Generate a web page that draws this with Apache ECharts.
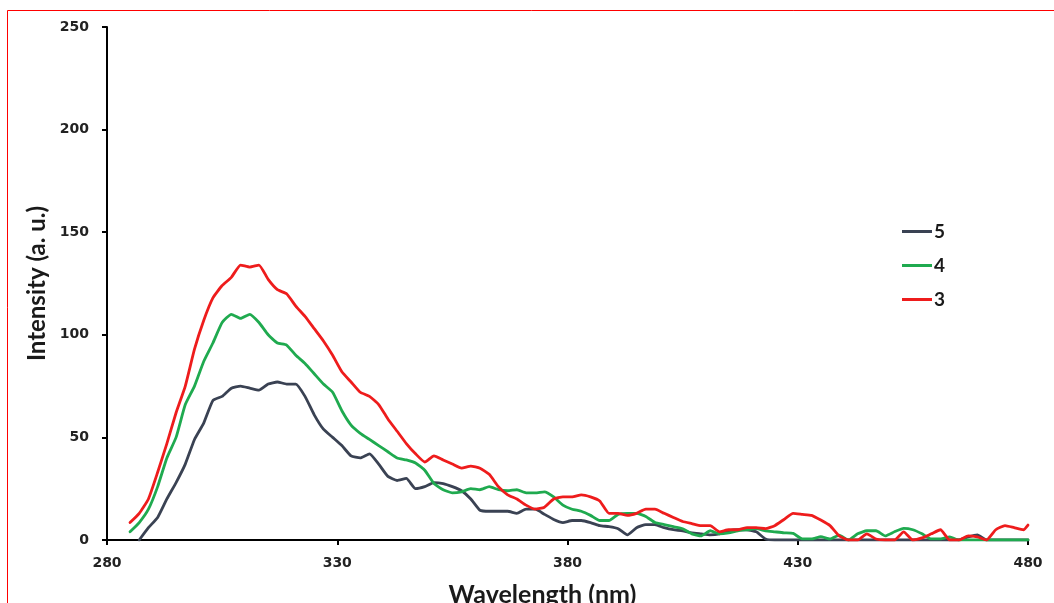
<!DOCTYPE html>
<html>
<head>
<meta charset="utf-8">
<script src="https://cdn.jsdelivr.net/npm/echarts@6/dist/echarts.min.js"></script>
<style>
  html, body { margin: 0; padding: 0; background: #ffffff; overflow: hidden; }
  #chart { width: 1054px; height: 603px; }
</style>
</head>
<body>
<div id="chart"></div>
<script>
// Emission spectra: wavelength (nm) vs. intensity (a. u.)
const wavelengths = [
  285, 287, 289, 291, 293, 295, 297, 299, 301, 303,
  305, 307, 309, 311, 313, 315, 317, 319, 321, 323,
  325, 327, 329, 331, 333, 335, 337, 339, 341, 343,
  345, 347, 349, 351, 353, 355, 357, 359, 361, 363,
  365, 367, 369, 371, 373, 375, 377, 379, 381, 383,
  385, 387, 389, 391, 393, 395, 397, 399, 401, 403,
  405, 407, 409, 411, 413, 415, 417, 419, 421, 423,
  425, 427, 429, 431, 433, 435, 437, 439, 441, 443,
  445, 447, 449, 451, 453, 455, 457, 459, 461, 463,
  465, 467, 469, 471, 473, 475, 477, 479, 480
];

const sample5 = [
  null, 0, 6, 11, 20, 28, 37, 49, 57, 68,
  70, 74, 75, 74, 73, 76, 77, 76, 76, 70,
  61, 54, 50, 46, 41, 40, 42, 37, 31, 29,
  30, 25, 26, 28, 27.5, 26, 24, 20, 14.5, 14,
  14, 14, 13, 15, 15, 12.5, 10, 8.5, 9.5, 9.5,
  8.5, 7, 6.5, 5.5, 2.5, 6, 7.5, 7.5, 6, 5,
  4.5, 3.5, 3, 2.5, 3, 4.5, 5, 5, 4, 0.5,
  0, 0, 0, 0, 0, 0, 0, 0, 0, 0,
  0, 0, 0, 0, 0, 0, 0, 0, 0, 0,
  0, 1.5, 2.5, 0, 0, 0, 0, 0, 0
];

const sample4 = [
  4, 8.5, 15, 26, 40, 50, 66, 75, 87, 96,
  106, 110, 108, 110, 106, 100, 96, 95, 90, 86,
  81, 76, 72, 63, 56, 52, 49, 46, 43, 40,
  39, 37.5, 34, 27.5, 24.5, 23, 23.5, 25, 24.5, 26,
  24.5, 24, 24.5, 23, 23, 23.5, 21, 17, 15, 14,
  12, 9.5, 9.5, 12.5, 13, 13, 11.5, 8.5, 7.5, 6.5,
  5.5, 3, 2, 4.5, 3, 3.5, 4.5, 5, 5.5, 4.5,
  4, 3.5, 3.2, 0.5, 0.5, 1.6, 0.5, 2.4, 0, 3,
  4.5, 4.5, 2, 4, 5.7, 5, 3, 0.5, 0.5, 1.5,
  0, 0, 0, 0, 0, 0, 0, 0, 0
];

const sample3 = [
  8.5, 13, 20, 33, 47, 62, 75, 93, 107, 118,
  124, 128, 134, 133, 134, 127, 122, 120, 114, 109,
  103, 97, 90, 82, 77, 72, 70, 66, 59, 53,
  47, 42, 38, 41, 39, 37, 35, 36, 35, 32,
  26, 22, 20, 17, 15, 16, 20, 21, 21, 22,
  21, 19, 13, 13, 12, 13, 15, 15, 13, 11,
  9, 8, 7, 7, 4, 5, 5, 6, 6, 5.5,
  7, 10, 13, 12.5, 12, 9.7, 7, 2, 0, 0,
  3, 0.5, 0, 0, 4, 0, 1, 3, 5, 0,
  0, 2, 1.5, 0, 5, 7, 6, 5, 7.3
];

const seriesNames = ['5', '4', '3'];
const seriesValues = [sample5, sample4, sample3];
const seriesColors = ['#3a4253', '#1faa4f', '#ee1c1c'];

const xTicks = { min: 280, max: 480, step: 50 };
const yTicks = { min: 0, max: 250, step: 50 };

const tickFont = {
  fontFamily: 'DejaVu Sans',
  fontWeight: 'bold',
  fontSize: 14,
  color: '#222222'
};

const chart = echarts.init(document.getElementById('chart'), null, { renderer: 'canvas' });

chart.setOption({
  animation: false,
  backgroundColor: '#ffffff',
  grid: {
    left: 107, right: 26, top: 27, bottom: 63,
    containLabel: false,
    outerBoundsMode: 'none'
  },
  graphic: [{
    type: 'rect',
    shape: { x: 7.5, y: 10.5, width: 1200, height: 800 },
    style: { fill: 'none', stroke: '#ff0000', lineWidth: 1 },
    silent: true,
    z: 100
  }],
  legend: {
    orient: 'vertical',
    left: 897,
    top: 217,
    icon: 'rect',
    itemWidth: 30,
    itemHeight: 3,
    itemGap: 15,
    data: seriesNames,
    textStyle: {
      fontFamily: 'Lato',
      fontWeight: 'bold',
      fontSize: 19,
      color: '#1a1a1a',
      padding: [0, 0, 0, -3]
    }
  },
  xAxis: {
    type: 'value',
    min: xTicks.min,
    max: xTicks.max,
    interval: xTicks.step,
    name: 'Wavelength (nm)',
    nameLocation: 'middle',
    nameGap: 42,
    nameTextStyle: {
      fontFamily: 'Lato',
      fontWeight: 'bold',
      fontSize: 25,
      color: '#1a1a1a',
      padding: [0, 50, 0, 0]
    },
    splitLine: { show: false },
    axisLine: { lineStyle: { color: '#000000', width: 2 } },
    axisTick: { show: true, length: 5, lineStyle: { color: '#000000', width: 2 } },
    axisLabel: Object.assign({ margin: 16 }, tickFont)
  },
  yAxis: {
    type: 'value',
    min: yTicks.min,
    max: yTicks.max,
    interval: yTicks.step,
    name: 'Intensity (a. u.)',
    nameLocation: 'middle',
    nameGap: 57,
    nameTextStyle: {
      fontFamily: 'Lato',
      fontWeight: 'bold',
      fontSize: 24,
      color: '#1a1a1a'
    },
    splitLine: { show: false },
    axisLine: { show: true, lineStyle: { color: '#000000', width: 2 } },
    axisTick: { show: true, length: 5, lineStyle: { color: '#000000', width: 2 } },
    axisLabel: Object.assign({ margin: 18 }, tickFont)
  },
  series: seriesNames.map((name, k) => ({
    name: name,
    type: 'line',
    symbol: 'none',
    smooth: 0.15,
    color: seriesColors[k],
    lineStyle: { width: 2.8, color: seriesColors[k], join: 'round', cap: 'round' },
    data: wavelengths.map((w, i) => [w, seriesValues[k][i]])
  }))
});
</script>
</body>
</html>
